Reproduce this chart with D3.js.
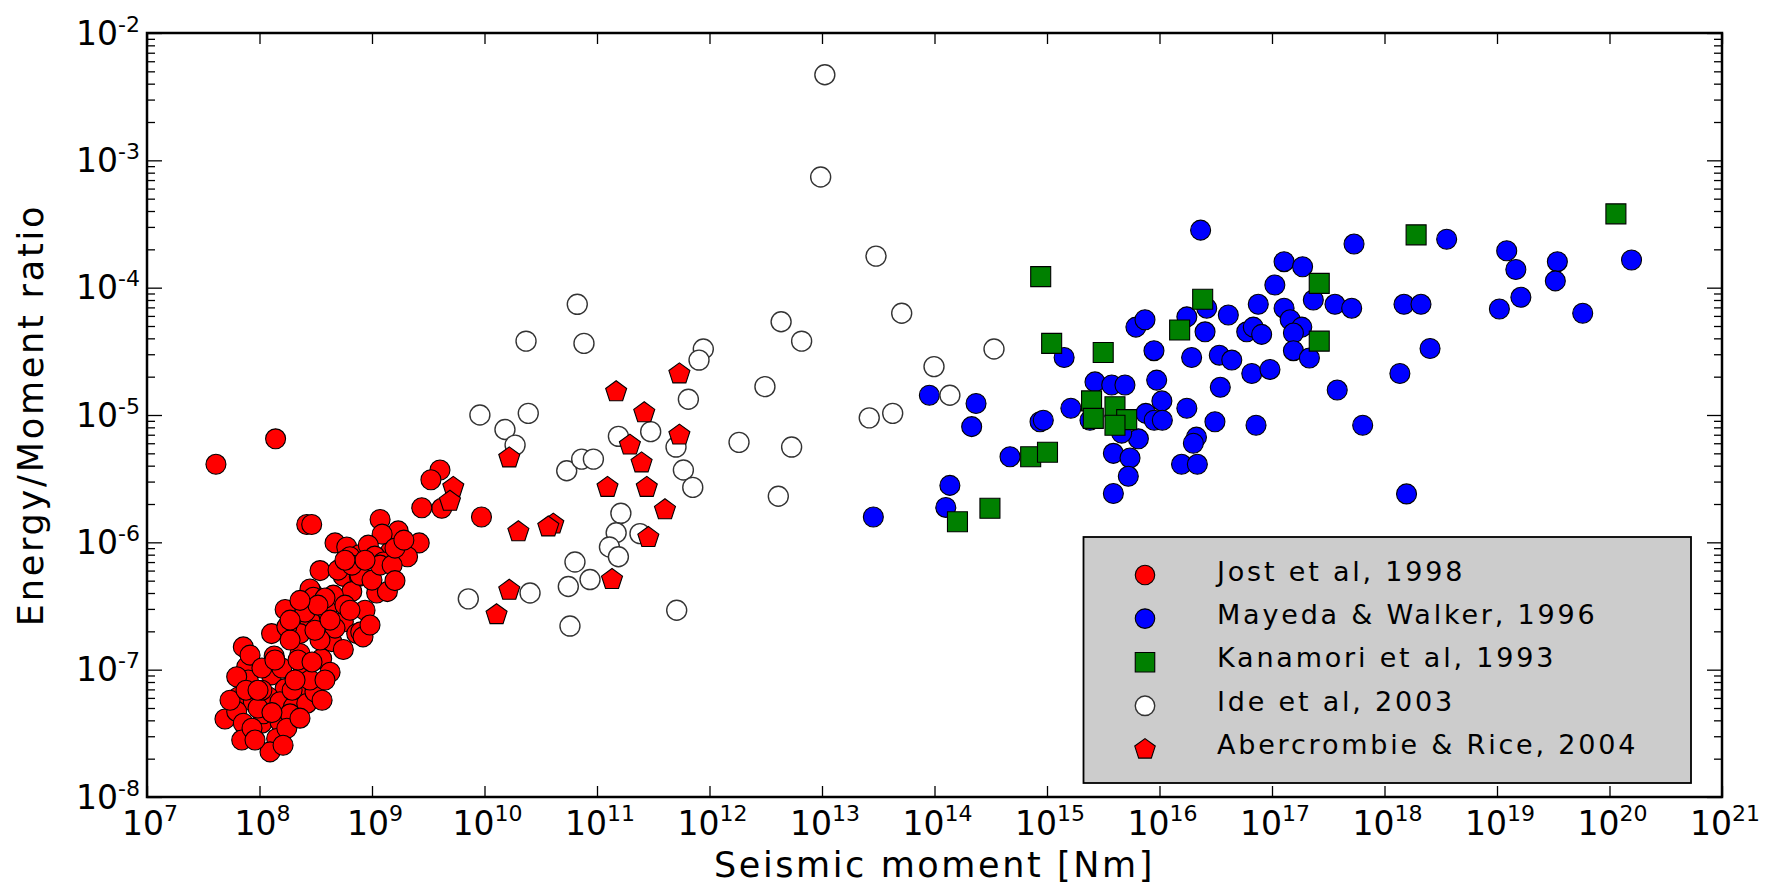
<!DOCTYPE html>
<html><head><meta charset="utf-8">
<script src="https://cdn.jsdelivr.net/npm/d3@7"></script>
<style>
body{margin:0;background:#fff}
svg{display:block}
text{font-family:"DejaVu Sans",sans-serif;fill:#000}
</style>
</head><body>
<svg id="chart" width="1776" height="888"></svg>
<script>
// ---------------- data: [seismic moment (Nm), energy/moment ratio] ----------------
const jost = [
[4.1e7,4.1e-6],[1.39e8,6.5e-6],[2.63e8,1.38e-6],[2.91e8,1.38e-6],[1.18e9,1.51e-6],[1.71e9,1.23e-6],[2.63e9,9.9e-7],[2.07e9,7.7e-7],[1.45e9,8.4e-7],[1.23e9,1.16e-6],[4.02e9,3.7e-6],[3.34e9,3.1e-6],[4.17e9,1.85e-6],[2.77e9,1.87e-6],[9.4e9,1.58e-6],
[4.69e8,9.9e-7],[5.96e8,9.2e-7],[7.71e8,8.0e-7],[9.27e8,9.5e-7],[6.37e8,7.7e-7],[1.06e9,7.8e-7],[1.26e9,7.0e-7],[3.45e8,6.0e-7],[5.56e8,5.4e-7],[7.71e8,5.4e-7],[6.61e8,4.1e-7],[2.91e8,4.1e-7],[4.53e8,3.85e-7],[1.10e9,4.0e-7],[1.37e9,4.1e-7],
[1.69e8,2.97e-7],[3.95e8,2.93e-7],[5.56e8,2.38e-7],[2.81e8,2.42e-7],[2.29e8,1.92e-7],[1.28e8,1.92e-7],[4.39e8,1.66e-7],[7.31e8,1.92e-7],[7.94e8,1.98e-7],[8.32e8,1.81e-7],[5.56e8,1.44e-7],[3.57e8,1.22e-7],[2.29e8,1.34e-7],[1.35e8,1.28e-7],[7.18e7,1.51e-7],[1.75e8,2.17e-7],[1.87e8,1.71e-7],
[7.82e8,5.5e-7],[2.81e8,4.3e-7],[3.01e8,3.7e-7],
[4.69e8,2.12e-7],[5.75e8,3.21e-7],[3.82e8,3.65e-7],[8.67e8,2.93e-7],[9.6e8,2.24e-7],[2.54e8,2.83e-7],[3.31e8,3.21e-7],[4.99e8,6.05e-7],[6.64e8,6.62e-7],[1.0e9,5.05e-7],[1.18e9,6.62e-7],[1.51e9,6.62e-7],[1.6e9,9.0e-7],[1.92e9,1.04e-6],[8.67e8,7.24e-7],[5.75e8,7.24e-7],
[7.69e7,1.05e-7],[7.94e7,8.3e-8],[1.28e8,9.1e-8],[2.45e8,9.9e-8],[1.69e8,7.1e-8],[3.01e8,6.9e-8],[2.29e8,7.1e-8],[6.27e7,8.8e-8],[6.49e7,6.1e-8],[8.81e7,5.6e-8],[1.20e8,6.1e-8],[1.52e8,5.6e-8],[2.0e8,5.1e-8],[2.63e8,5.43e-8],[3.11e8,6.7e-8],[4.93e7,4.1e-8],[6.27e7,4.7e-8],[1.05e8,3.8e-8],[1.52e8,3.9e-8],[7.18e7,3.8e-8],[6.95e7,2.8e-8],[1.42e8,2.88e-8],[1.24e8,2.26e-8],[1.08e8,4.5e-8],[1.87e8,4.5e-8],
[8.24e7,1.30e-7],[1.05e8,1.03e-7],[1.58e8,1.03e-7],[1.95e8,6.9e-8],[9.7e7,5.0e-8],[1.29e8,4.6e-8],[8.58e7,3.47e-8],[1.75e8,3.47e-8],[2.29e8,4.16e-8],[3.6e8,5.75e-8],[2.81e8,8.3e-8],[1.05e8,6.9e-8],[5.47e7,5.75e-8],[7.59e7,6.9e-8],[2.2e8,1.19e-7],[2.93e8,1.15e-7],[4.24e8,9.55e-8],[1.62e8,2.55e-8],[9.12e7,2.8e-8],
[9.7e7,6.9e-8],[2.07e8,8.3e-8],[3.82e8,8.3e-8],[1.37e8,1.19e-7],[3.45e8,1.71e-7],[6.37e8,2.93e-7],[2.29e8,3.5e-7],[1.87e8,2.45e-7],[3.11e8,2.04e-7],[4.24e8,2.45e-7],[1.6e9,5.0e-7]
];
const mayeda = [
[2.86e13,1.58e-6],[9.0e13,1.43e-5],[2.34e14,1.23e-5],[2.14e14,8.1e-6],[1.37e14,2.8e-6],[1.26e14,1.88e-6],[4.69e14,4.7e-6],[8.67e14,8.85e-6],[9.27e14,9.1e-6],[1.42e15,2.83e-5],[1.63e15,1.13e-5],[2.67e15,1.82e-5],[3.76e15,1.72e-5],[3.89e15,2.42e-6],[3.89e15,5.0e-6],
[2.32e16,2.83e-4],[5.36e17,2.2e-4],[1.28e17,1.6e-4],[1.87e17,1.46e-4],[1.06e17,1.05e-4],[7.55e16,7.4e-5],[2.33e17,8.0e-5],[3.63e17,7.4e-5],[5.11e17,6.9e-5],[1.28e17,6.9e-5],[1.45e17,5.6e-5],[1.84e17,4.9e-5],[1.55e17,4.4e-5],[4.09e16,6.1e-5],[2.63e16,6.9e-5],[1.75e16,5.9e-5],[2.54e16,4.5e-5],[5.96e16,4.5e-5],[6.82e16,4.9e-5],[8.09e16,4.3e-5],
[6.17e15,4.9e-5],[7.43e15,5.6e-5],[8.93e15,3.2e-5],[1.93e16,2.83e-5],[3.4e16,2.95e-5],[4.39e16,2.7e-5],[1.55e17,3.2e-5],[2.15e17,2.8e-5],[6.61e16,2.12e-5],[9.59e16,2.28e-5],[4.93e15,1.72e-5],[9.44e15,1.88e-5],[3.47e16,1.65e-5],[3.8e17,1.57e-5],[1.05e16,1.29e-5],
[7.55e15,1.03e-5],[8.97e15,9.1e-6],[1.06e16,9.1e-6],[1.75e16,1.13e-5],[3.11e16,8.85e-6],[7.21e16,8.3e-6],[6.4e17,8.3e-6],[2.41e15,9.1e-6],[6.49e15,6.5e-6],[4.61e15,7.2e-6],[5.47e15,4.6e-6],[5.28e15,3.3e-6],[2.13e16,6.7e-6],[2.0e16,6.0e-6],[1.57e16,4.1e-6],[2.17e16,4.1e-6],
[3.57e18,2.4e-4],[1.22e19,1.95e-4],[1.47e19,1.39e-4],[3.44e19,1.6e-4],[3.3e19,1.13e-4],[1.57e20,1.65e-4],[1.49e18,7.4e-5],[2.11e18,7.4e-5],[1.05e19,6.8e-5],[1.63e19,8.4e-5],[5.78e19,6.3e-5],[2.54e18,3.33e-5],[1.37e18,2.12e-5],[1.57e18,2.4e-6]
];
const kanamori = [
[8.79e14,1.22e-4],[1.1e15,3.65e-5],[3.16e15,3.1e-5],[2.49e15,1.29e-5],[2.58e15,9.4e-6],[4.02e15,1.16e-5],[5.11e15,9.2e-6],[4.02e15,8.3e-6],[7.16e14,4.7e-6],[1.01e15,5.1e-6],[3.11e14,1.85e-6],[1.6e14,1.45e-6],
[2.42e16,8.1e-5],[1.51e16,4.65e-5],[2.63e17,1.08e-4],[2.63e17,3.8e-5],[1.91e18,2.6e-4],[1.14e20,3.8e-4]
];
const ide = [
[9.1e9,1.0e-5],[1.52e10,7.7e-6],[2.45e10,1.03e-5],[1.87e10,5.8e-6],[5.38e10,3.65e-6],[7.31e10,4.5e-6],[9.29e10,4.5e-6],[7.18e9,3.6e-7],[2.54e10,4.0e-7],[6.37e10,7.0e-7],[5.56e10,4.5e-7],[8.67e10,5.1e-7],[5.75e10,2.2e-7],
[6.68e10,7.4e-5],[2.34e10,3.8e-5],[7.66e10,3.65e-5],[4.33e12,5.4e-5],[8.81e11,3.3e-5],[8.07e11,2.7e-5],[3.11e12,1.67e-5],[6.49e11,1.33e-5],[1.55e11,6.8e-6],[3.0e11,7.4e-6],[5.04e11,5.6e-6],[1.83e12,6.1e-6],[5.37e12,5.6e-6],[4.09e12,2.3e-6],
[5.86e11,3.7e-6],[7.1e11,2.7e-6],[1.63e11,1.69e-6],[1.48e11,1.19e-6],[2.41e11,1.17e-6],[1.29e11,9.2e-7],[1.55e11,7.7e-7],[5.11e11,2.93e-7],
[1.06e13,4.7e-3],[9.73e12,7.4e-4],[3.02e13,1.77e-4],[5.11e13,6.3e-5],[6.59e12,3.8e-5],[3.38e14,3.3e-5],[9.9e13,2.4e-5],[1.37e14,1.43e-5],[2.63e13,9.5e-6],[4.25e13,1.03e-5]
];
const abercrombie = [
[1.66e10,4.6e-6],[2.0e10,1.21e-6],[4.09e10,1.39e-6],[3.69e10,1.32e-6],[1.66e10,4.2e-7],[1.28e10,2.7e-7],[5.28e9,2.7e-6],[4.93e9,2.1e-6],
[5.4e11,2.1e-5],[1.48e11,1.52e-5],[2.63e11,1.04e-5],[5.4e11,6.95e-6],[1.96e11,5.8e-6],[2.49e11,4.2e-6],[1.24e11,2.7e-6],[2.77e11,2.7e-6],[4.02e11,1.8e-6],[2.86e11,1.09e-6],[1.36e11,5.1e-7]
];
const seriesNames = ["Jost et al, 1998","Mayeda & Walker, 1996","Kanamori et al, 1993","Ide et al, 2003","Abercrombie & Rice, 2004"];
const seriesColors = ["#ff0000","#0000ff","#008000","#ffffff","#ff0000"];
const xTickExp = [7,8,9,10,11,12,13,14,15,16,17,18,19,20,21];
const yTickExp = [-8,-7,-6,-5,-4,-3,-2];
const xLabel = "Seismic moment [Nm]";
const yLabel = "Energy/Moment ratio";

// ---------------- chart ----------------
const svg = d3.select("#chart");
const L = 147, R = 1722, T = 33, B = 797;
const x = d3.scaleLog().domain([1e7, 1e21]).range([L, R]);
const y = d3.scaleLog().domain([1e-8, 1e-2]).range([B, T]);

const symbolPentagon = {
  draw(ctx, size) {
    const r = Math.sqrt(size / (2.5 * Math.sin(2 * Math.PI / 5)));
    for (let i = 0; i < 5; i++) {
      const a = -Math.PI / 2 + i * 2 * Math.PI / 5;
      const px = r * Math.cos(a), py = r * Math.sin(a);
      if (i) ctx.lineTo(px, py); else ctx.moveTo(px, py);
    }
    ctx.closePath();
  }
};
const shapes = [
  {type: d3.symbolCircle, size: 314},
  {type: d3.symbolCircle, size: 314},
  {type: d3.symbolSquare, size: 400},
  {type: d3.symbolCircle, size: 314},
  {type: symbolPentagon, size: 290}
];
const allSeries = [jost, mayeda, kanamori, ide, abercrombie];

const pts = svg.append("g");
allSeries.forEach((data, i) => {
  const sym = d3.symbol().type(shapes[i].type).size(shapes[i].size);
  pts.append("g").selectAll("path").data(data).join("path")
    .attr("transform", d => `translate(${x(d[0])},${y(d[1])})`)
    .attr("d", sym)
    .attr("fill", seriesColors[i])
    .attr("stroke", i === 3 ? "#333" : "#000")
    .attr("stroke-width", i === 3 ? 1.4 : 1.1);
});

// ticks
const xMajor = xTickExp.map(e => Math.pow(10, e));
const yMajor = yTickExp.map(e => Math.pow(10, e));
const yMinor = [];
yTickExp.slice(0, -1).forEach(e => { for (let m = 2; m <= 9; m++) yMinor.push(m * Math.pow(10, e)); });

function styleAxis(g) {
  g.select(".domain").remove();
  g.selectAll("line").attr("stroke", "#000").attr("stroke-width", 1.3);
}
svg.append("g").attr("transform", `translate(0,${B})`)
  .call(d3.axisBottom(x).tickValues(xMajor).tickSize(-11).tickFormat("")).call(styleAxis);
svg.append("g").attr("transform", `translate(0,${T})`)
  .call(d3.axisTop(x).tickValues(xMajor).tickSize(-11).tickFormat("")).call(styleAxis);
svg.append("g").attr("transform", `translate(${L},0)`)
  .call(d3.axisLeft(y).tickValues(yMajor).tickSize(-15).tickFormat("")).call(styleAxis);
svg.append("g").attr("transform", `translate(${L},0)`)
  .call(d3.axisLeft(y).tickValues(yMinor).tickSize(-8).tickFormat("")).call(styleAxis);
svg.append("g").attr("transform", `translate(${R},0)`)
  .call(d3.axisRight(y).tickValues(yMajor).tickSize(-15).tickFormat("")).call(styleAxis);
svg.append("g").attr("transform", `translate(${R},0)`)
  .call(d3.axisRight(y).tickValues(yMinor).tickSize(-8).tickFormat("")).call(styleAxis);

// frame
svg.append("rect").attr("x", L).attr("y", T).attr("width", R - L).attr("height", B - T)
  .attr("fill", "none").attr("stroke", "#000").attr("stroke-width", 2.5);

// tick labels
xTickExp.forEach((e, i) => {
  const t = svg.append("text").attr("x", x(xMajor[i]) + 3).attr("y", 835)
    .attr("text-anchor", "middle").attr("font-size", 33);
  t.append("tspan").text("10");
  t.append("tspan").attr("dy", -14).attr("font-size", 22).text(String(e));
});
yTickExp.forEach((e, i) => {
  const t = svg.append("text").attr("x", 140).attr("y", y(yMajor[i]) + 11.5)
    .attr("text-anchor", "end").attr("font-size", 33);
  t.append("tspan").text("10");
  t.append("tspan").attr("dy", -13).attr("font-size", 22).text(String(e));
});

// axis labels
svg.append("text").attr("x", (L + R) / 2).attr("y", 877).attr("text-anchor", "middle")
  .attr("font-size", 35).attr("letter-spacing", 2.6).text(xLabel);
svg.append("text").attr("transform", `translate(43,${(T + B) / 2}) rotate(-90)`)
  .attr("text-anchor", "middle").attr("font-size", 35).attr("letter-spacing", 2.8).text(yLabel);

// legend
const lg = svg.append("g");
lg.append("rect").attr("x", 1083.5).attr("y", 537).attr("width", 607.5).attr("height", 246)
  .attr("fill", "#cccccc").attr("stroke", "#000").attr("stroke-width", 1.8);
seriesNames.forEach((name, i) => {
  const sym = d3.symbol().type(shapes[i].type).size(shapes[i].size * 0.95);
  lg.append("path").attr("transform", `translate(1145,${575 + i * 43.6})`).attr("d", sym)
    .attr("fill", seriesColors[i]).attr("stroke", i === 3 ? "#333" : "#000")
    .attr("stroke-width", i === 3 ? 1.4 : 1.1);
  lg.append("text").attr("x", 1217).attr("y", 581 + i * 43.2).attr("font-size", 27)
    .attr("letter-spacing", 2.8).text(name);
});
</script>
</body></html>
